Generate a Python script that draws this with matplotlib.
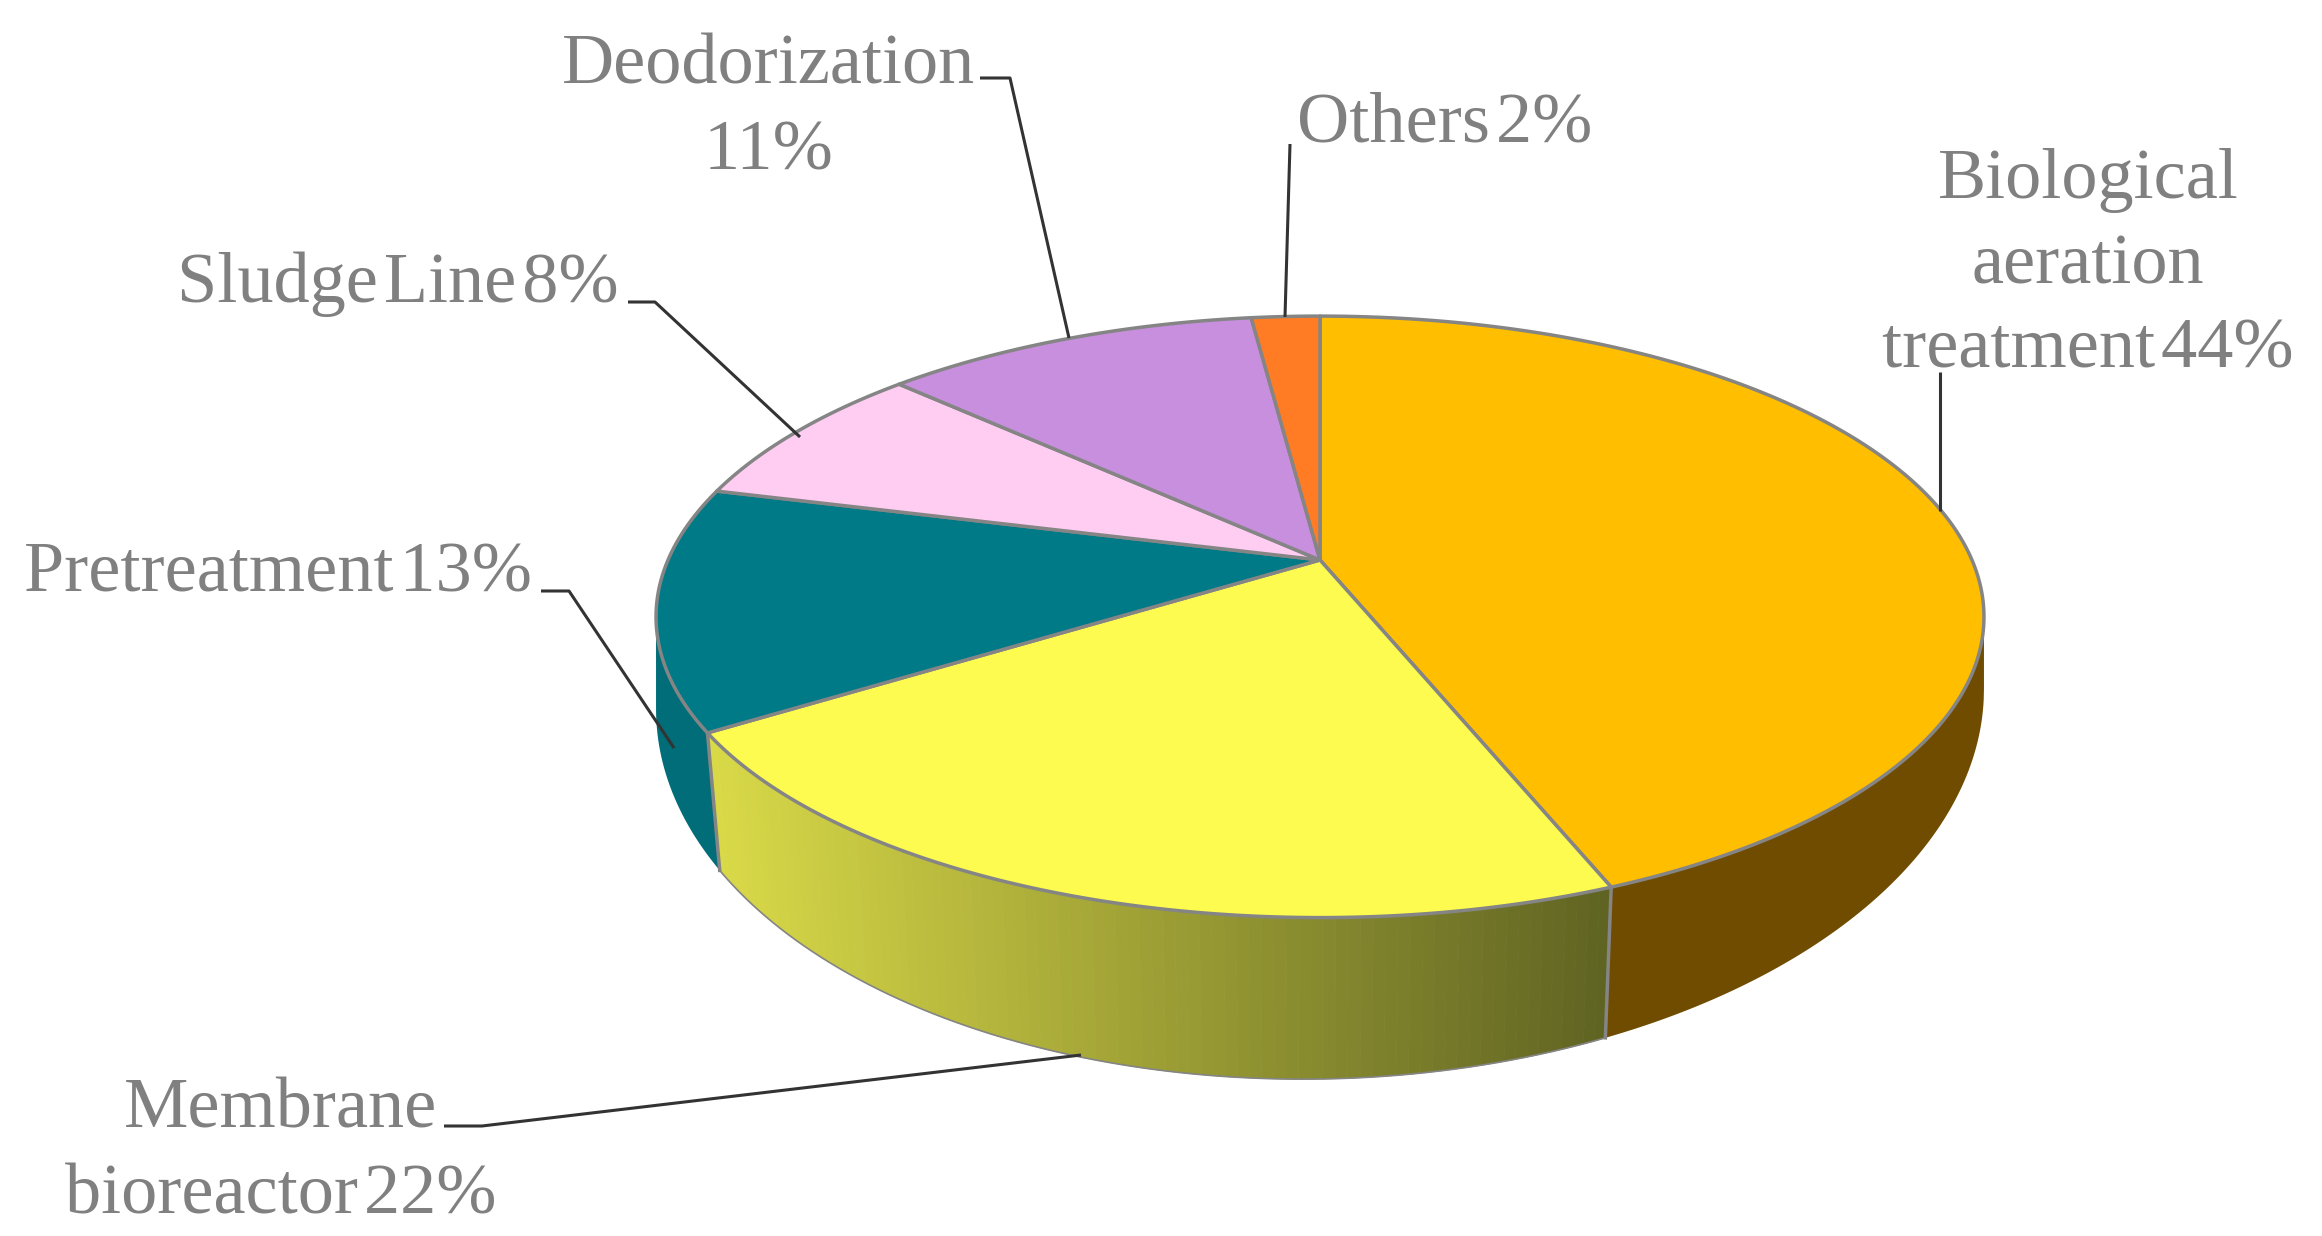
import matplotlib
matplotlib.use("Agg")
import matplotlib.pyplot as plt
import numpy as np

categories = ["Biological aeration treatment", "Membrane bioreactor", "Pretreatment",
              "Sludge Line", "Deodorization", "Others"]
shares = [44, 22, 13, 8, 11, 2]
top_colors = ["#FFBE00", "#FDFB50", "#007A87", "#FFCCF2", "#C78FDD", "#FF7C24"]
side_colors = ["#704C00", None, "#006D78", "#C9A0C0", "#9C70AE", "#C05A18"]

# narrow word spaces, the reference sets them very tight
label_texts = ["Biological\naeration\ntreatment\u200a44%", "Membrane\nbioreactor\u200a22%", "Pretreatment\u200a13%",
               "Sludge\u200aLine\u200a8%", "Deodorization\n11%", "Others\u200a2%"]
label_x = [2088, 281, 278, 398, 769, 1445]
label_y = [198, 1128, 592, 302, 84, 142]

# leader lines, full size pixels
leaders = [
    [(1940, 511), (1940, 372)],
    [(444, 1126), (482, 1126), (1081, 1055)],
    [(541, 591), (569, 591), (674, 748)],
    [(628, 302), (655, 302), (800, 437)],
    [(980, 78), (1010, 78), (1069, 338)],
    [(1290, 144), (1285, 317)],
]

CX, CY = 1320, 560
RX, RY = 652, 290
K = 0.189
LOW_CY, LOW_RY = 699, 380
EDGE = "#858585"


def project(frac, low=False):
    # frac of the circle, clockwise from 12 o'clock, with perspective
    a = 2 * np.pi * np.asarray(frac, dtype=float)
    x = np.sin(a)
    y = np.cos(a)
    w = 1 + K * y
    px = RX * x / w
    py = CY - RY * y / w
    if low:
        # bottom rim is a taller ellipse, only its front half shows
        extent = RX / np.sqrt(1 - K ** 2)
        px = px * (1 - 0.02 * np.clip(-3 * (y + K), 0, 1))
        py = LOW_CY + LOW_RY * np.sqrt(np.clip(1 - (px / extent) ** 2, 0, 1)) - 0.015 * px
    return CX + px, py


fig = plt.figure(figsize=(23.22, 12.36), dpi=100)
ax = fig.add_axes([0, 0, 1, 1])
ax.set_xlim(0, 2322)
ax.set_ylim(1236, 0)
ax.axis("off")

ends = np.cumsum(shares) / np.sum(shares)
starts = np.concatenate([[0], ends[:-1]])

# side walls first, top goes over them; only the front half of the disc has one
light = np.array([218, 218, 72]) / 255
dark = np.array([96, 100, 34]) / 255
FRONT_A = np.arccos(-K) / (2 * np.pi)
FRONT_B = 1 - FRONT_A
for i in range(len(shares)):
    s, e = max(starts[i], FRONT_A), min(ends[i], FRONT_B)
    if s >= e:
        continue
    if side_colors[i] is None:
        edges = np.linspace(s, e, 90)
        x_ref = project(edges)[0]
        for j in range(len(edges) - 1):
            f = np.linspace(edges[j], edges[j + 1], 3)
            xt, yt = project(f)
            xb, yb = project(f, low=True)
            t = (x_ref[j] - x_ref.min()) / (x_ref.max() - x_ref.min())
            c = light + (dark - light) * t
            ax.fill(np.r_[xt, xb[::-1]], np.r_[yt, yb[::-1]], color=c, lw=0.6, zorder=2)
    else:
        f = np.linspace(s, e, 160)
        xt, yt = project(f)
        xb, yb = project(f, low=True)
        ax.fill(np.r_[xt, xb[::-1]], np.r_[yt, yb[::-1]], color=side_colors[i], lw=0, zorder=2)

# grey rim under the yellow wall and the edges between walls
f = np.linspace(starts[1], ends[1], 150)
ax.plot(*project(f, low=True), color=EDGE, lw=1.2, zorder=3)
for b in [ends[0], ends[1]]:
    xt, yt = project(b)
    xb, yb = project(b, low=True)
    ax.plot([xt, xb], [yt, yb], color=EDGE, lw=2.5, zorder=3)

for i in range(len(shares)):
    f = np.linspace(starts[i], ends[i], 200)
    xt, yt = project(f)
    ax.fill(np.r_[CX, xt], np.r_[CY, yt], facecolor=top_colors[i], edgecolor=EDGE,
            lw=2.5, joinstyle="round", zorder=4)

for pts in leaders:
    xs = [p[0] for p in pts]
    ys = [p[1] for p in pts]
    ax.plot(xs, ys, color="#333333", lw=2.2, solid_capstyle="butt", zorder=5)

for i in range(len(label_texts)):
    lines = label_texts[i].split("\n")
    for n, line in enumerate(lines):
        ax.text(label_x[i], label_y[i] + n * 85, line, family="Liberation Serif", fontsize=52,
                color="#808080", ha="center", va="baseline", zorder=6)

fig.savefig("out.png", dpi=100)
